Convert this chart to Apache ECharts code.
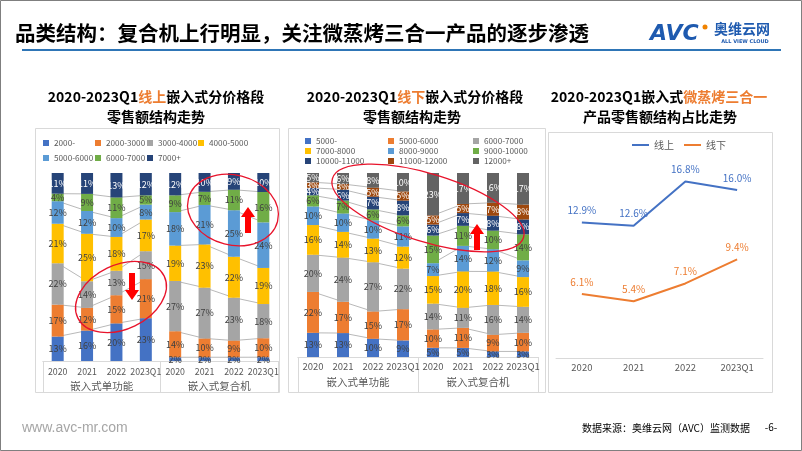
<!DOCTYPE html>
<html><head><meta charset="utf-8">
<script src="https://cdn.jsdelivr.net/npm/echarts/dist/echarts.min.js"></script>
<style>html,body{margin:0;padding:0;background:#fff}#c{width:802px;height:451px}</style>
</head><body><div id="c"></div>
<script>
// ---------- DATA ----------
const years = ['2020', '2021', '2022', '2023Q1'];
const groups = ['嵌入式单功能', '嵌入式复合机'];
const categories = years.concat(years); // single-function years, then composite years

// Online price bands (share %, 8 values: single 2020..2023Q1, composite 2020..2023Q1)
const onlineNames = ['2000-', '2000-3000', '3000-4000', '4000-5000', '5000-6000', '6000-7000', '7000+'];
const on2000minus = [13, 16, 20, 23, 2, 2, 2, 2];
const on2000to3000 = [17, 12, 15, 21, 14, 10, 9, 10];
const on3000to4000 = [22, 14, 13, 15, 27, 27, 23, 18];
const on4000to5000 = [21, 25, 18, 17, 19, 23, 22, 19];
const on5000to6000 = [12, 12, 10, 8, 18, 21, 25, 24];
const on6000to7000 = [4, 9, 11, 5, 9, 7, 11, 16];
const on7000plus = [11, 11, 13, 12, 12, 10, 9, 10];

// Offline price bands
const offlineNames = ['5000-', '5000-6000', '6000-7000', '7000-8000', '8000-9000', '9000-10000', '10000-11000', '11000-12000', '12000+'];
const off5000minus = [13, 13, 10, 9, 5, 5, 3, 3];
const off5000to6000 = [22, 17, 15, 17, 10, 11, 9, 10];
const off6000to7000 = [20, 24, 27, 22, 14, 11, 16, 14];
const off7000to8000 = [16, 14, 13, 12, 15, 20, 18, 16];
const off8000to9000 = [10, 10, 10, 11, 7, 14, 12, 9];
const off9000to10000 = [6, 7, 6, 6, 15, 11, 10, 14];
const off10000to11000 = [4, 6, 7, 8, 6, 7, 8, 8];
const off11000to12000 = [3, 3, 5, 5, 5, 5, 7, 8];
const off12000plus = [5, 6, 8, 10, 23, 17, 16, 17];

// Steam-bake-oven 3-in-1 share
const lineNames = ['线上', '线下'];
const onlineShare = [12.9, 12.6, 16.8, 16.0];
const offlineShare = [6.1, 5.4, 7.1, 9.4];

// ---------- STYLE ----------
const F = '"Noto Sans CJK SC", "Noto Sans", sans-serif';
const onlineColors = ['#4472C4', '#ED7D31', '#A5A5A5', '#FFC000', '#5B9BD5', '#70AD47', '#264478'];
const offlineColors = ['#4472C4', '#ED7D31', '#A5A5A5', '#FFC000', '#5B9BD5', '#70AD47', '#264478', '#9E480E', '#636363'];
const darkColors = ['#264478', '#9E480E', '#636363'];
const lineColors = ['#4472C4', '#ED7D31'];
const BORDER = '#D9D9D9';

// legend grid layouts (icon left x, row centre y)
const onLegendCols = [43, 95, 147, 198];
const onLegendRows = [143, 158];
const offLegendCols = [305, 388, 473];
const offLegendRows = [141, 151, 161];

const onlineValues = [on2000minus, on2000to3000, on3000to4000, on4000to5000, on5000to6000, on6000to7000, on7000plus];
const offlineValues = [off5000minus, off5000to6000, off6000to7000, off7000to8000, off8000to9000, off9000to10000, off10000to11000, off11000to12000, off12000plus];

function buildStack(valuesList, names, colors, axisIdx, prefix) {
  const n = categories.length;
  const totals = [];
  for (let i = 0; i < n; i++) totals.push(valuesList.reduce((s, arr) => s + arr[i], 0));
  const normed = valuesList.map(arr => arr.map((v, i) => v / totals[i] * 100));
  const out = [];
  normed.forEach((arr, k) => {
    const dark = darkColors.indexOf(colors[k]) >= 0;
    out.push({
      type: 'bar', name: prefix + names[k], stack: prefix + 'stack',
      xAxisIndex: axisIdx * 2, yAxisIndex: axisIdx,
      barWidth: 12, z: 3,
      itemStyle: { color: colors[k] },
      label: {
        show: true, position: 'inside', fontSize: 9, fontFamily: F,
        color: dark ? '#FFFFFF' : '#404040',
        formatter: p => p.data.raw + '%'
      },
      data: arr.map((v, i) => ({ value: v, raw: valuesList[k][i] }))
    });
  });
  // series lines connecting segment boundaries, within each group
  const cum = new Array(n).fill(0);
  for (let k = 0; k < normed.length - 1; k++) {
    for (let i = 0; i < n; i++) cum[i] += normed[k][i];
    [0, 1].forEach(g => {
      out.push({
        type: 'line', xAxisIndex: axisIdx * 2, yAxisIndex: axisIdx, z: 1, silent: true,
        symbol: 'none', lineStyle: { color: '#A6A6A6', width: 0.8 },
        data: cum.map((v, i) => (Math.floor(i / 4) === g ? v : '-'))
      });
    });
  }
  return out;
}

function yearAxis(gridIndex, margin, fs) {
  return {
    type: 'category', gridIndex, data: categories,
    axisLine: { lineStyle: { color: BORDER } }, axisTick: { show: false },
    axisLabel: { interval: 0, hideOverlap: false, fontSize: fs, color: '#595959', margin, fontFamily: F }
  };
}
function groupAxis(gridIndex, margin, tickLen) {
  return {
    type: 'category', gridIndex, data: groups, position: 'bottom',
    axisLine: { show: true, lineStyle: { color: BORDER } },
    axisTick: { show: true, length: tickLen, lineStyle: { color: BORDER } },
    axisLabel: { interval: 0, fontSize: 10.5, color: '#595959', margin, fontFamily: F }
  };
}

const series = []
  .concat(buildStack(onlineValues, onlineNames, onlineColors, 0, 'on:'))
  .concat(buildStack(offlineValues, offlineNames, offlineColors, 1, 'off:'));

[onlineShare, offlineShare].forEach((arr, k) => {
  series.push({
    type: 'line', name: lineNames[k], xAxisIndex: 4, yAxisIndex: 2,
    symbol: 'circle', symbolSize: 0.01, showSymbol: true,
    lineStyle: { color: lineColors[k], width: 2 }, itemStyle: { color: lineColors[k] },
    label: { show: true, position: 'top', distance: 7, color: lineColors[k], fontSize: 10, fontFamily: F,
      formatter: p => p.value.toFixed(1) + '%' },
    data: arr
  });
});

function gridLegends(names, prefix, cols, rows) {
  return names.map((n, i) => ({
    data: [prefix + n], left: cols[i % cols.length], top: rows[Math.floor(i / cols.length)] - 5,
    padding: 0, itemWidth: 6, itemHeight: 6, icon: 'rect',
    formatter: s => s.replace(prefix, ''),
    textStyle: { fontSize: 8.2, color: '#595959', lineHeight: 10, fontFamily: F }
  }));
}

const subRich = {
  k: { fill: '#000', fontSize: 14, fontWeight: 'bold', fontFamily: F },
  o: { fill: '#ED7D31', fontSize: 14, fontWeight: 'bold', fontFamily: F }
};
function sub(x, y, text) {
  return { type: 'text', x, y, style: { text, rich: subRich, align: 'center', verticalAlign: 'middle', font: 'bold 14px ' + F } };
}
function arrow(x, y, up) {
  const pts = up
    ? [[0, 0], [7, 10], [3, 10], [3, 26], [-3, 26], [-3, 10], [-7, 10]]
    : [[-3, 0], [3, 0], [3, 17], [7, 17], [0, 27], [-7, 17], [-3, 17]];
  return { type: 'polygon', x, y, z: 20, shape: { points: pts }, style: { fill: '#FF0000' } };
}
function ellipse(x, y, rx, ry, rot) {
  return { type: 'ellipse', x, y, rotation: rot, z: 20, shape: { cx: 0, cy: 0, rx, ry },
    style: { fill: 'none', stroke: '#E8132B', lineWidth: 1.3 } };
}

const graphic = [
  { type: 'rect', shape: { x: 0.5, y: 0.5, width: 801, height: 450 }, style: { fill: 'none', stroke: '#7F7F7F', lineWidth: 1 }, z: 0 },
  { type: 'text', x: 15, y: 33, style: { text: '品类结构：复合机上行明显，关注微蒸烤三合一产品的逐步渗透', font: 'bold 20.5px ' + F, fill: '#000', verticalAlign: 'middle' } },
  { type: 'line', shape: { x1: 22, y1: 50, x2: 781, y2: 50 }, style: { stroke: '#2E75B6', lineWidth: 2 } },
  { type: 'text', x: 650, y: 34, style: { text: 'AVC', font: 'italic bold 22px "DejaVu Sans", sans-serif', fill: '#1E5AAF', verticalAlign: 'middle' } },
  { type: 'circle', shape: { cx: 705, cy: 27, r: 2.5 }, style: { fill: '#F08300' } },
  { type: 'text', x: 742, y: 29, style: { text: '奥维云网', font: 'bold 14px ' + F, fill: '#1E5AAF', align: 'center', verticalAlign: 'middle' } },
  { type: 'text', x: 745, y: 42, style: { text: 'ALL VIEW CLOUD', font: 'bold 5px "DejaVu Sans", sans-serif', fill: '#1E5AAF', align: 'center', verticalAlign: 'middle' } },

  sub(156, 97, '{k|2020-2023Q1}{o|线上}{k|嵌入式分价格段}'),
  sub(156, 117, '{k|零售额结构走势}'),
  sub(415, 97, '{k|2020-2023Q1}{o|线下}{k|嵌入式分价格段}'),
  sub(412, 117, '{k|零售额结构走势}'),
  sub(659, 97, '{k|2020-2023Q1嵌入式}{o|微蒸烤三合一}'),
  sub(660, 117, '{k|产品零售额结构占比走势}'),

  { type: 'rect', shape: { x: 35.5, y: 128.5, width: 244, height: 264 }, style: { fill: 'none', stroke: BORDER, lineWidth: 1 } },
  { type: 'rect', shape: { x: 288.5, y: 128.5, width: 257, height: 264 }, style: { fill: 'none', stroke: BORDER, lineWidth: 1 } },
  { type: 'rect', shape: { x: 548.5, y: 132.5, width: 224, height: 260 }, style: { fill: 'none', stroke: BORDER, lineWidth: 1 } },

  { type: 'text', x: 22, y: 428, style: { text: 'www.avc-mr.com', font: '14px "Liberation Sans", sans-serif', fill: '#A6A6A6', verticalAlign: 'middle' } },
  { type: 'text', x: 750, y: 428, style: { text: '数据来源：奥维云网（AVC）监测数据', font: '10px ' + F, fill: '#000', align: 'right', verticalAlign: 'middle' } },
  { type: 'text', x: 771, y: 427, style: { text: '-6-', font: '10px ' + F, fill: '#000', align: 'center', verticalAlign: 'middle' } },

  ellipse(121, 297, 48, 32, 0.45),
  ellipse(233, 210, 46, 35, -0.25),
  ellipse(428, 208, 100, 34, -0.3),
  arrow(132, 273, false),
  arrow(248, 207, true),
  arrow(477, 224, true)
];

const option = {
  animation: false,
  backgroundColor: '#FFFFFF',
  textStyle: { fontFamily: F },
  grid: [
    { left: 43, width: 235, top: 173, height: 188 },
    { left: 298, width: 240, top: 173, height: 184 },
    { left: 556, width: 207, top: 148, height: 210 }
  ],
  xAxis: [
    yearAxis(0, 6, 8.8), groupAxis(0, 20, 31),
    yearAxis(1, 5, 9.5), groupAxis(1, 20, 35),
    { type: 'category', gridIndex: 2, data: years, axisLine: { lineStyle: { color: BORDER } }, axisTick: { show: false },
      axisLabel: { fontSize: 9.5, color: '#595959', margin: 5, fontFamily: F } }
  ],
  yAxis: [
    { type: 'value', gridIndex: 0, min: 0, max: 100, show: false },
    { type: 'value', gridIndex: 1, min: 0, max: 100, show: false },
    { type: 'value', gridIndex: 2, min: 0, max: 20, show: false }
  ],
  legend: []
    .concat(gridLegends(onlineNames, 'on:', onLegendCols, onLegendRows))
    .concat(gridLegends(offlineNames, 'off:', offLegendCols, offLegendRows))
    .concat([{ data: lineNames, left: 632, top: 140, padding: 0, itemWidth: 17, itemHeight: 2, itemGap: 10, icon: 'rect',
      textStyle: { fontSize: 10, color: '#595959', fontFamily: F } }]),
  series,
  graphic
};

const chart = echarts.init(document.getElementById('c'), null, { renderer: 'canvas' });
chart.setOption(option);
</script>
</body></html>
